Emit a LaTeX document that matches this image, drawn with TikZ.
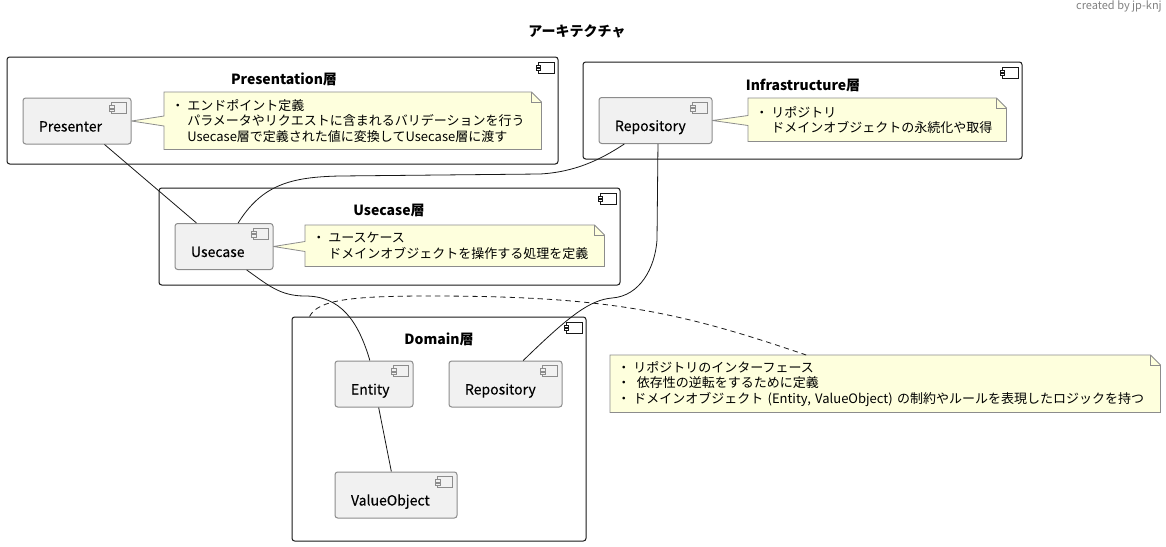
\documentclass[tikz,border=0pt]{standalone}
\usepackage{fontspec}
\setmainfont{Noto Sans CJK JP}
\usepackage{xcolor}
\usetikzlibrary{calc, backgrounds}
\definecolor{linedark}{HTML}{181818}
\definecolor{compfill}{HTML}{F1F1F1}
\definecolor{notefill}{HTML}{FEFFDD}

\begin{document}
\begin{tikzpicture}[
  x=0.75pt, y=-0.75pt,
  layer/.style={rectangle, rounded corners=2pt, draw=linedark, line width=0.75pt, inner sep=0pt},
  comp/.style={rectangle, rounded corners=2pt, draw=gray!90, fill=compfill, line width=0.75pt,
    minimum height=34.5pt, inner xsep=12pt, inner ysep=0pt, text height=15.75pt, text depth=0pt,
    align=left, text=black, font=\fontsize{10.5}{12}\selectfont\addfontfeature{FakeBold=0.2}},
  note/.style={anchor=north west, inner xsep=5.25pt, inner ysep=0pt, align=left, text=black,
    font=\fontsize{9.75}{11.5}\selectfont},
  layertitle/.style={font=\fontsize{10.5}{12}\selectfont\bfseries, text=black, inner sep=0pt},
  conn/.style={draw=linedark, line width=0.6pt},
  noteline/.style={draw=gray!90, fill=notefill, line width=0.6pt, line join=miter}
]
\useasboundingbox (0,0) rectangle (1166,546);

% --- Title ---
\node[layertitle] (title) at (577,31) {アーキテクチャ};
\node[font=\fontsize{8.25}{10}\selectfont, text=gray, anchor=north east, inner sep=0pt] (credit) at (1162,0.5) {created by jp-knj};

% --- Layers ---
\node[layer, minimum width=413.25pt, minimum height=80.25pt] (presentation) at (282.5,110.5) {};
\node[layertitle] (presentationtitle) at (284,79) {Presentation層};
\node[layer, minimum width=329.25pt, minimum height=72.75pt] (infrastructure) at (802.5,110.5) {};
\node[layertitle] (infrastructuretitle) at (803,85) {Infrastructure層};
\node[layer, minimum width=345.75pt, minimum height=72.75pt] (usecaselayer) at (389.5,236.5) {};
\node[layertitle] (usecasetitle) at (389,210) {Usecase層};
\node[layer, minimum width=220.5pt, minimum height=168pt] (domain) at (439,429) {};
\node[layertitle] (domaintitle) at (439,339) {Domain層};

% --- Components ---
\node[comp, text width=57pt] (presenter) at (77,121) {Presenter};
\node[comp, text width=60.75pt] (repoinfra) at (655.5,120.5) {Repository};
\node[comp, text width=49.5pt] (usecase) at (224,246.5) {Usecase};
\node[comp, text width=34.5pt] (entity) at (374,384) {Entity};
\node[comp, text width=60.75pt] (repodomain) at (505.5,384) {Repository};
\node[comp, text width=67.5pt] (valueobject) at (396,495) {ValueObject};

% --- Notes ---
\node[note, text width=272.25pt, minimum height=42.75pt] (notepresenter) at (164,92) {・\hspace*{2.25pt}エンドポイント定義\\\hspace*{12pt}パラメータやリクエストに含まれるバリデーションを行う\\\hspace*{12pt}Usecase層で定義された値に変換してUsecase層に渡す};
\node[note, text width=183pt, minimum height=32.25pt] (noterepo) at (748,98) {・\hspace*{2.25pt}リポジトリ\\\hspace*{12pt}ドメインオブジェクトの永続化や取得};
\node[note, text width=213.75pt, minimum height=30.75pt] (noteusecase) at (305,225) {・\hspace*{2.25pt}ユースケース\\\hspace*{12pt}ドメインオブジェクトを操作する処理を定義};
\node[note, text width=402pt, minimum height=42.75pt] (notedomain) at (610,355) {・\hspace*{2.25pt}リポジトリのインターフェース\\・\hspace*{5pt}依存性の逆転をするために定義\\・\hspace*{2.25pt}ドメインオブジェクト (Entity, ValueObject) の制約やルールを表現したロジックを持つ};

\begin{scope}[on background layer]
  % notes with a tail
  \foreach \n/\c in {notepresenter/presenter, noterepo/repoinfra, noteusecase/usecase} {
    \draw[noteline] (\n.north west) -- ($(\n.north east)+(-10,0)$) -- ($(\n.north east)+(0,10)$)
      -- (\n.south east) -- (\n.south west) -- ($(\n.west |- \c.east)+(0,5)$) -- (\c.east)
      -- ($(\n.west |- \c.east)+(0,-5)$) -- cycle;
  }
  \draw[noteline] (notedomain.north west) -- ($(notedomain.north east)+(-10,0)$) -- ($(notedomain.north east)+(0,10)$)
    -- (notedomain.south east) -- (notedomain.south west) -- cycle;
  % folded corners
  \foreach \n in {notepresenter, noterepo, noteusecase, notedomain} {
    \draw[noteline, fill=none] ($(\n.north east)+(-10,0)$) -- ($(\n.north east)+(-10,10)$) -- ($(\n.north east)+(0,10)$);
  }
\end{scope}

% --- Component icons ---
\foreach \n in {presentation, infrastructure, usecaselayer, domain} {
  \begin{scope}[shift={(\n.north east)}, draw=linedark, line width=0.6pt]
    \draw[fill=white] (-20,6) rectangle (-4,17);
    \draw[fill=white] (-22,8.5) rectangle (-18,10.5);
    \draw[fill=white] (-22,12) rectangle (-18,14);
  \end{scope}
}
\foreach \n in {presenter, repoinfra, usecase, entity, repodomain, valueobject} {
  \begin{scope}[shift={(\n.north east)}, draw=gray!90, line width=0.5pt]
    \draw[fill=compfill] (-20,5) rectangle (-5,16);
    \draw[fill=compfill] (-22.5,8) rectangle (-17.5,10.5);
    \draw[fill=compfill] (-22.5,11.5) rectangle (-17.5,14);
  \end{scope}
}

% --- Connectors ---
\draw[conn] (presenter) -- (usecase);
\draw[conn] (entity) -- (valueobject);
\draw[conn] (repoinfra.217) .. controls (600,160) and (575,172) .. (540,174) -- (340,176) .. controls (290,177) and (262,185) .. (usecase.59);
\draw[conn] (usecase.-46) .. controls (268,285) and (280,296) .. (305,296) .. controls (340,296) and (358,320) .. (entity.100);
\draw[conn] (repoinfra.-84) -- (657,240) .. controls (655,268) and (640,296) .. (612,298) .. controls (590,300) and (570,315) .. (repodomain.53);
\draw[conn, dash pattern=on 4pt off 3pt] (domain.139.5) .. controls (318,300) and (350,296) .. (430,296) .. controls (610,296) and (680,312) .. (notedomain.160);

\end{tikzpicture}
\end{document}
